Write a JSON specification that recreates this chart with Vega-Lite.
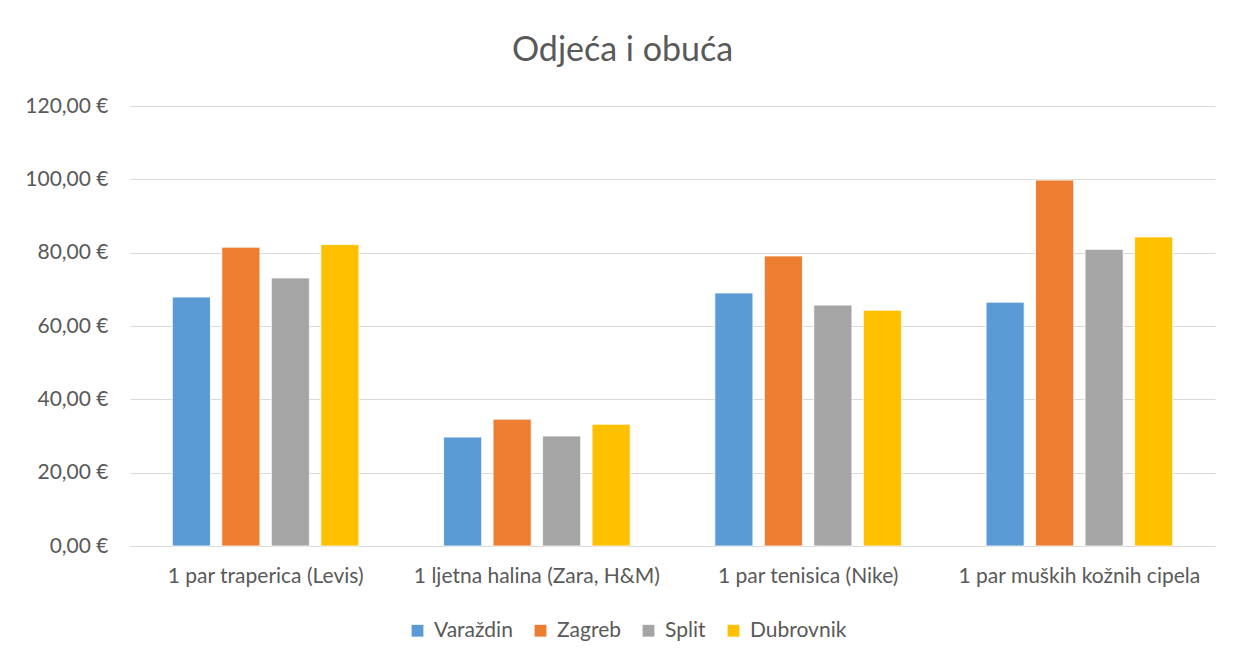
{
  "$schema": "https://vega.github.io/schema/vega-lite/v6.json",
  "autosize": {"type": "none"},
  "width": 1085,
  "height": 440,
  "padding": {"left": 130, "top": 106, "right": 26, "bottom": 120},
  "background": "white",
  "title": {
    "text": "Odjeća i obuća",
    "font": "Lato",
    "fontSize": 34,
    "fontWeight": "normal",
    "color": "#595959",
    "anchor": "middle",
    "dx": -50,
    "offset": 27
  },
  "data": {
    "values": [
      {"artikl": "1 par traperica (Levis)", "grad": "Varaždin", "cijena": 67.9},
      {"artikl": "1 par traperica (Levis)", "grad": "Zagreb", "cijena": 81.5},
      {"artikl": "1 par traperica (Levis)", "grad": "Split", "cijena": 73.1},
      {"artikl": "1 par traperica (Levis)", "grad": "Dubrovnik", "cijena": 82.2},
      {"artikl": "1 ljetna halina (Zara, H&M)", "grad": "Varaždin", "cijena": 29.7},
      {"artikl": "1 ljetna halina (Zara, H&M)", "grad": "Zagreb", "cijena": 34.6},
      {"artikl": "1 ljetna halina (Zara, H&M)", "grad": "Split", "cijena": 30.0},
      {"artikl": "1 ljetna halina (Zara, H&M)", "grad": "Dubrovnik", "cijena": 33.2},
      {"artikl": "1 par tenisica (Nike)", "grad": "Varaždin", "cijena": 69.0},
      {"artikl": "1 par tenisica (Nike)", "grad": "Zagreb", "cijena": 79.1},
      {"artikl": "1 par tenisica (Nike)", "grad": "Split", "cijena": 65.7},
      {"artikl": "1 par tenisica (Nike)", "grad": "Dubrovnik", "cijena": 64.3},
      {"artikl": "1 par muških kožnih cipela", "grad": "Varaždin", "cijena": 66.5},
      {"artikl": "1 par muških kožnih cipela", "grad": "Zagreb", "cijena": 99.8},
      {"artikl": "1 par muških kožnih cipela", "grad": "Split", "cijena": 80.9},
      {"artikl": "1 par muških kožnih cipela", "grad": "Dubrovnik", "cijena": 84.3}
    ]
  },
  "mark": {"type": "bar", "stroke": "white", "strokeWidth": 0.8},
  "encoding": {
    "x": {
      "field": "artikl",
      "type": "nominal",
      "sort": null,
      "scale": {"paddingInner": 0.312, "paddingOuter": 0.156},
      "axis": {
        "title": null,
        "labelAngle": 0,
        "labelFont": "Lato",
        "labelFontSize": 21,
        "labelColor": "#595959",
        "labelPadding": 19,
        "labelLimit": 0,
        "ticks": false,
        "domainColor": "#d9d9d9",
        "domainWidth": 1,
        "grid": false
      }
    },
    "xOffset": {
      "field": "grad",
      "type": "nominal",
      "sort": ["Varaždin", "Zagreb", "Split", "Dubrovnik"],
      "scale": {"paddingInner": 0.23, "paddingOuter": 0}
    },
    "y": {
      "field": "cijena",
      "type": "quantitative",
      "scale": {"domain": [0, 120]},
      "axis": {
        "title": null,
        "values": [0, 20, 40, 60, 80, 100, 120],
        "labelExpr": "replace(format(datum.value, '.2f'), '.', ',') + ' €'",
        "labelFont": "Lato",
        "labelFontSize": 21,
        "labelColor": "#595959",
        "labelPadding": 22,
        "ticks": false,
        "domain": false,
        "gridColor": "#d9d9d9",
        "gridWidth": 1
      }
    },
    "color": {
      "field": "grad",
      "type": "nominal",
      "sort": ["Varaždin", "Zagreb", "Split", "Dubrovnik"],
      "scale": {
        "domain": ["Varaždin", "Zagreb", "Split", "Dubrovnik"],
        "range": ["#5B9BD5", "#ED7D31", "#A5A5A5", "#FFC000"]
      },
      "legend": {
        "title": null,
        "orient": "none",
        "direction": "horizontal",
        "legendX": 277,
        "legendY": 514,
        "symbolType": "square",
        "symbolSize": 140,
        "symbolStrokeWidth": 0,
        "labelFont": "Lato",
        "labelFontSize": 21,
        "labelColor": "#595959",
        "columnPadding": 17,
        "labelOffset": 6
      }
    }
  },
  "config": {
    "view": {"stroke": null}
  }
}
